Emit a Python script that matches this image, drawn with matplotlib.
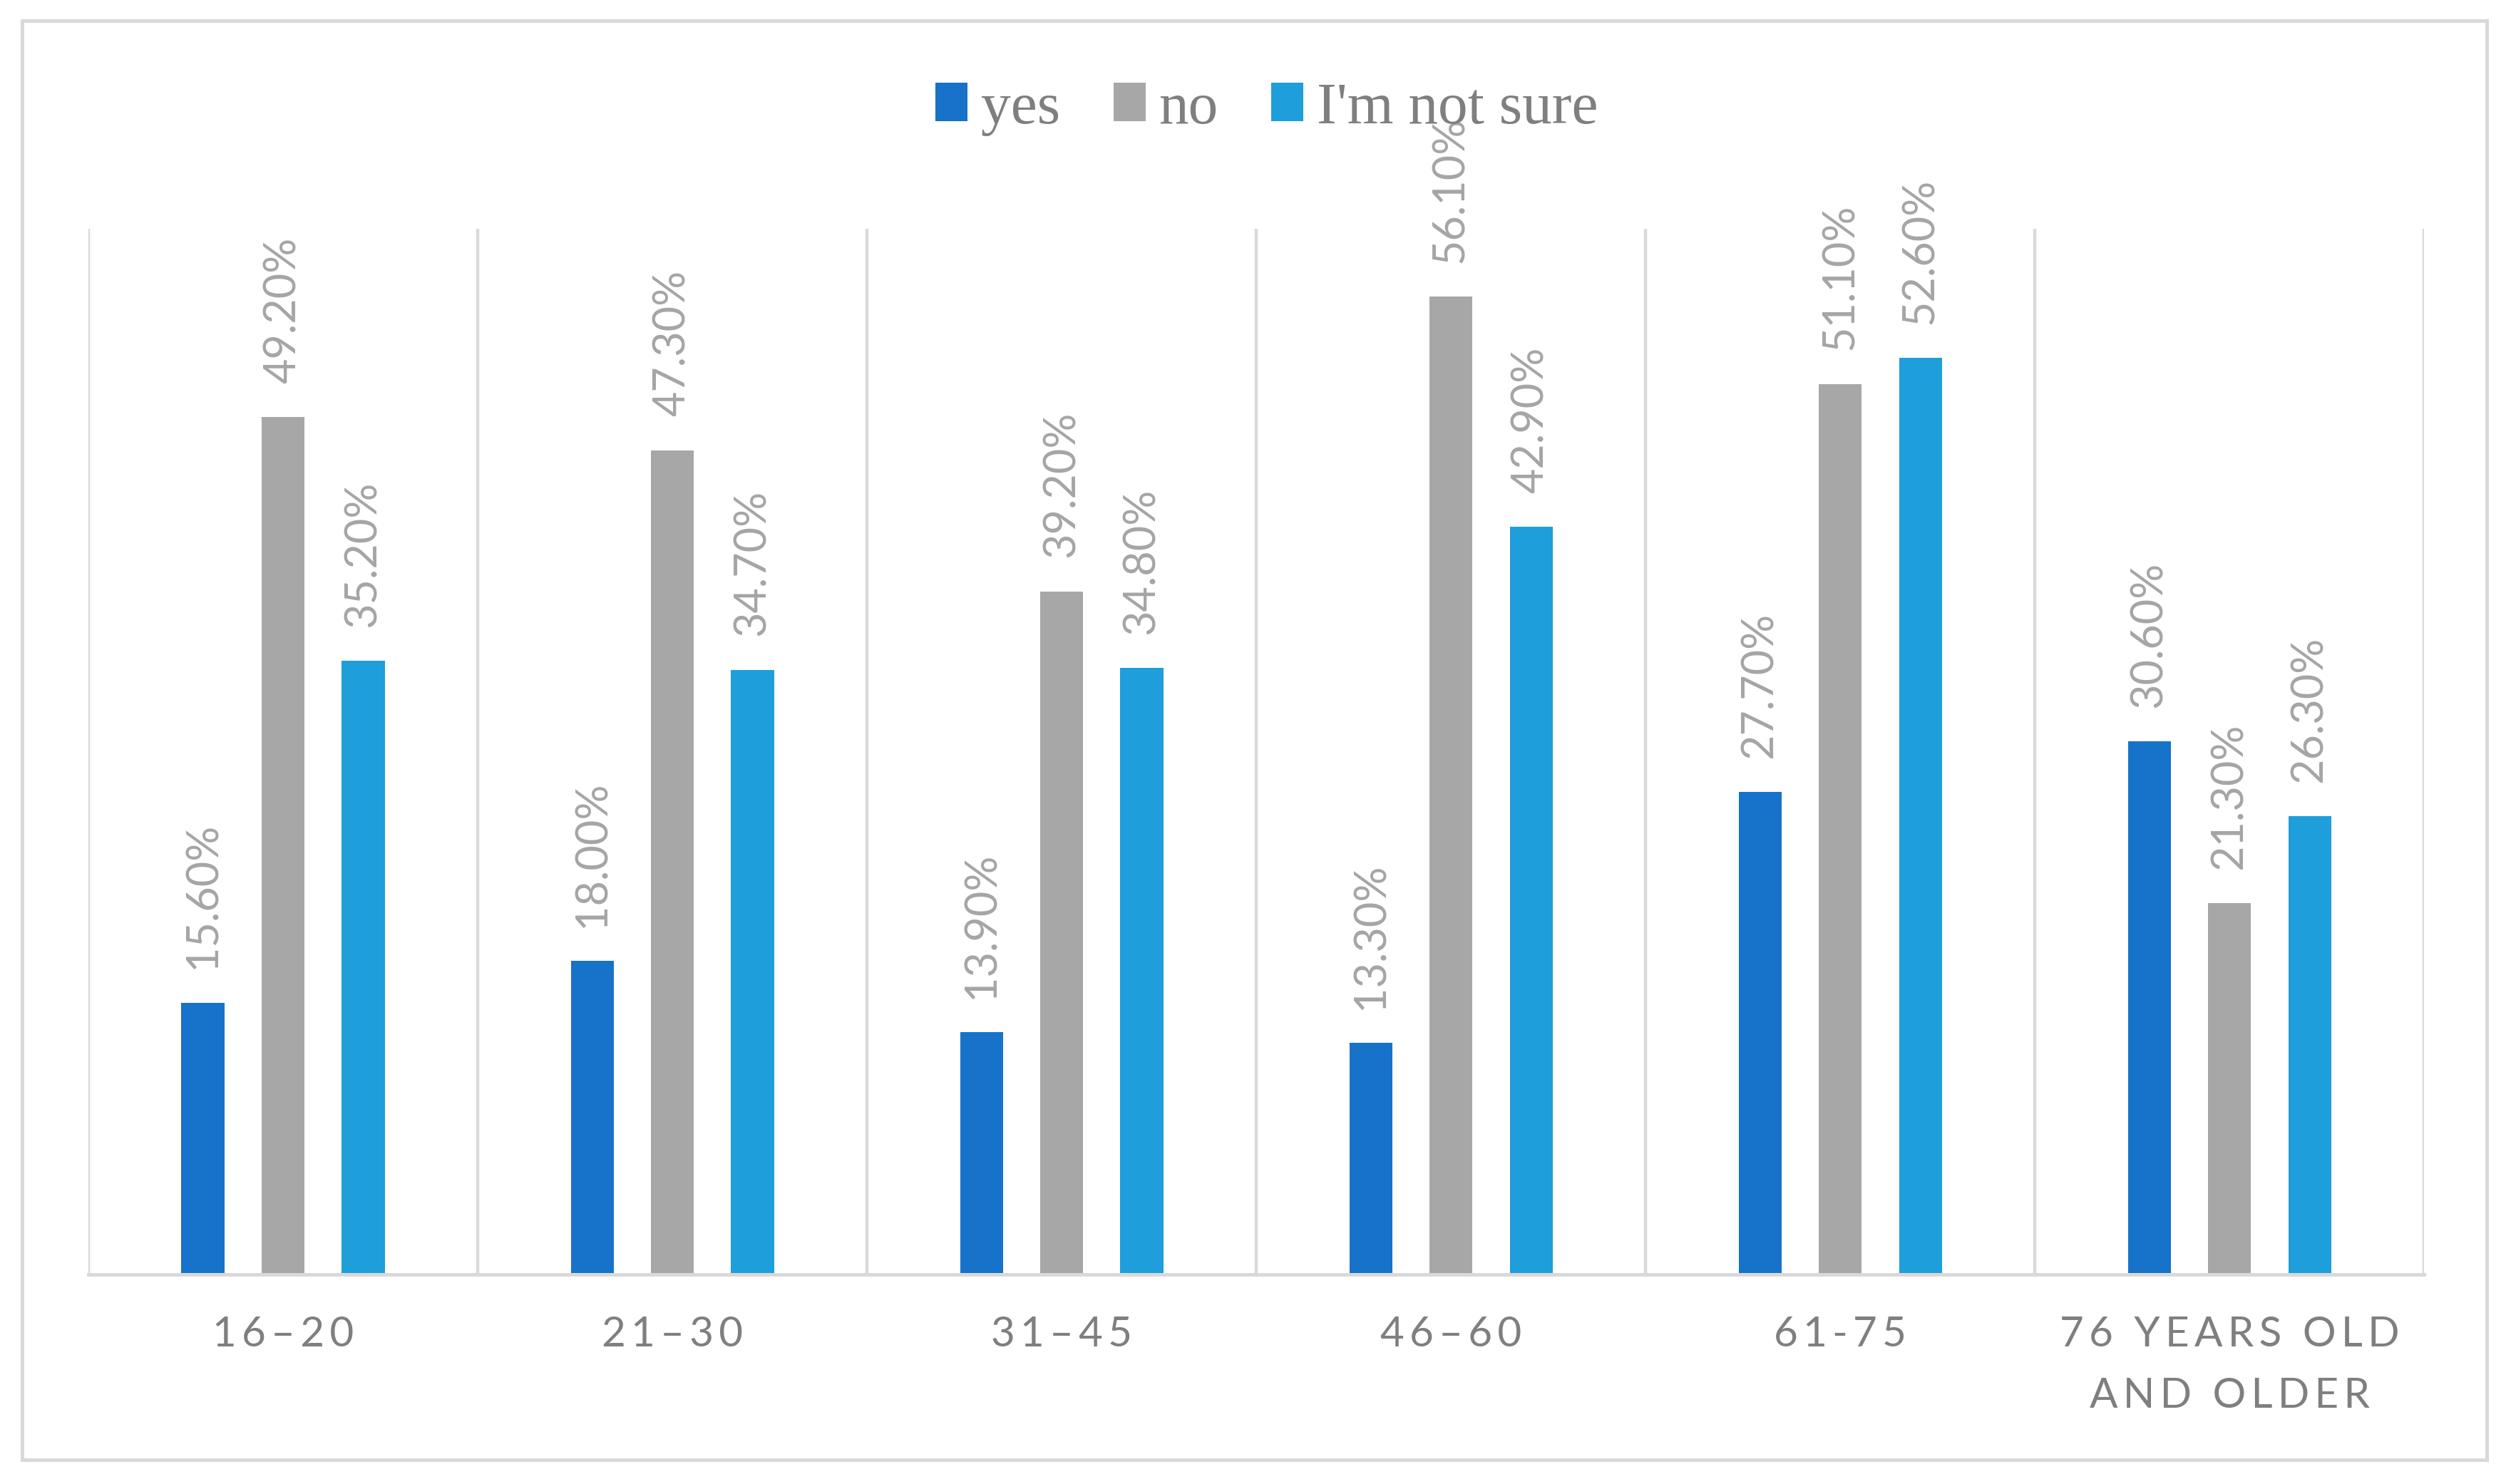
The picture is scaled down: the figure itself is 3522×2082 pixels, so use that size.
import matplotlib
matplotlib.use("Agg")
import matplotlib.pyplot as plt
import numpy as np
from matplotlib.patches import Rectangle

# 数据
categories = ['16–20', '21–30', '31–45', '46–60', '61-75', '76 YEARS OLD\nAND OLDER']
series_names = ['yes', 'no', "I'm not sure"]
yes_vals = [15.6, 18.0, 13.9, 13.3, 27.7, 30.6]
no_vals = [49.2, 47.3, 39.2, 56.1, 51.1, 21.3]
sure_vals = [35.2, 34.7, 34.8, 42.9, 52.6, 26.3]

colors = ['#1772C9', '#A7A7A7', '#1E9EDA']
grid_color = '#D9D9D9'
text_color = '#7F7F7F'
label_color = '#A5A5A5'
sans = ['Lato', 'DejaVu Sans']


def spaced(s):
    ''' 字母间距 '''
    return '\n'.join('\u2009'.join(line) for line in s.split('\n'))


fig = plt.figure(figsize=(17.61, 10.41), dpi=200)
ax = fig.add_axes([0.0352, 0.1412, 0.9302, 0.7046])

x = np.arange(len(categories))
width = 0.11
offsets = [-0.206, 0.0, 0.206]

for vals, name, color, off in zip([yes_vals, no_vals, sure_vals], series_names, colors, offsets):
    bars = ax.bar(x + off, vals, width=width, color=color, label=name, zorder=3)
    for b, v in zip(bars, vals):
        ax.annotate('{:.2f}%'.format(v), (b.get_x() + b.get_width() / 2, v),
                    xytext=(0, 17), textcoords='offset points',
                    rotation=90, ha='center', va='bottom',
                    fontsize=22, color=label_color, family=sans)

# 分隔线
for xv in np.arange(-0.5, len(categories), 1.0):
    ax.axvline(xv, color=grid_color, lw=1.6, zorder=1)

ax.set_xlim(-0.5, len(categories) - 0.5)
ax.set_ylim(0, 60)
for s in ['top', 'left', 'right']:
    ax.spines[s].set_visible(False)
ax.spines['bottom'].set_color(grid_color)
ax.spines['bottom'].set_linewidth(1.8)
ax.spines['bottom'].set_zorder(4)
ax.set_yticks([])
ax.set_xticks(x)
ax.set_xticklabels([spaced(c) for c in categories], fontsize=21, color=text_color,
                   family=sans, linespacing=1.75)
ax.tick_params(axis='x', length=0, pad=21)

leg = fig.legend(loc='center', bbox_to_anchor=(0.5045, 0.9265), ncol=3, frameon=False,
                 prop={'family': 'Liberation Serif', 'size': 30},
                 handlelength=0.54, handleheight=0.62, handletextpad=0.22,
                 columnspacing=0.9, labelcolor=text_color)

# 外框
fig.patches.append(Rectangle((0.0088, 0.0163), 0.9815, 0.9697, transform=fig.transFigure,
                             fill=False, edgecolor=grid_color, lw=1.8))

fig.savefig('out.png', dpi=200)
